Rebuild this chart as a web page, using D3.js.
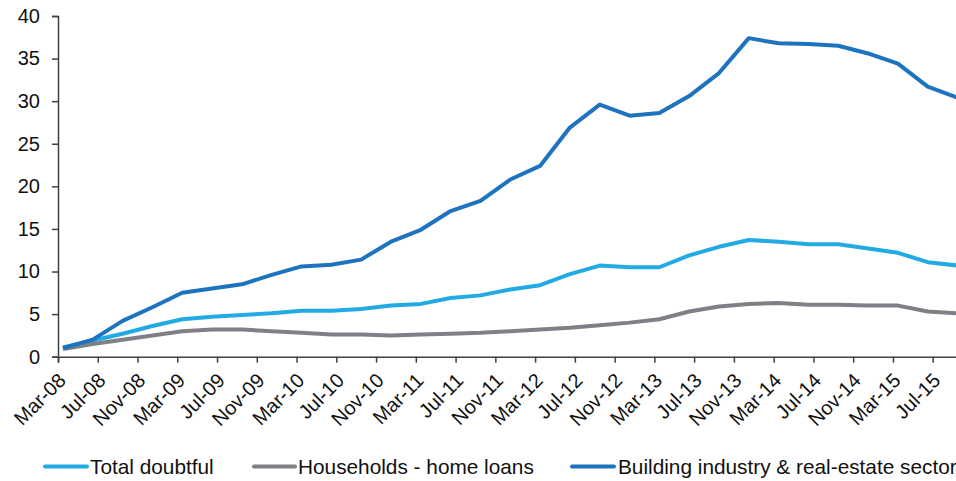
<!DOCTYPE html>
<html>
<head>
<meta charset="utf-8">
<script src="https://cdn.jsdelivr.net/npm/d3@7"></script>
<style>
  html, body { margin: 0; padding: 0; background: #fff; }
  svg { display: block; font-family: Arial, "Liberation Sans", sans-serif; }
</style>
</head>
<body>
<svg id="chart" width="956" height="481"></svg>
<script>
// Quarterly observations, Mar-08 .. Sep-15
const quarters = ["Mar-08","Jun-08","Sep-08","Dec-08","Mar-09","Jun-09","Sep-09","Dec-09",
  "Mar-10","Jun-10","Sep-10","Dec-10","Mar-11","Jun-11","Sep-11","Dec-11",
  "Mar-12","Jun-12","Sep-12","Dec-12","Mar-13","Jun-13","Sep-13","Dec-13",
  "Mar-14","Jun-14","Sep-14","Dec-14","Mar-15","Jun-15","Sep-15"];
const totalDoubtful = [1.1,1.9,2.7,3.6,4.4,4.7,4.9,5.1,5.4,5.4,5.6,6.0,6.2,6.9,7.2,7.9,
  8.4,9.7,10.7,10.5,10.5,11.9,12.9,13.7,13.5,13.2,13.2,12.7,12.2,11.1,10.7];
const householdsHomeLoans = [0.9,1.5,2.0,2.5,3.0,3.2,3.2,3.0,2.8,2.6,2.6,2.5,2.6,2.7,2.8,3.0,
  3.2,3.4,3.7,4.0,4.4,5.3,5.9,6.2,6.3,6.1,6.1,6.0,6.0,5.3,5.1];
const buildingRealEstate = [1.0,2.0,4.2,5.8,7.5,8.0,8.5,9.6,10.6,10.8,11.4,13.5,14.9,17.1,18.3,20.8,
  22.4,26.9,29.6,28.3,28.6,30.6,33.3,37.4,36.8,36.7,36.5,35.6,34.4,31.7,30.4];
const xTickLabels = ["Mar-08","Jul-08","Nov-08","Mar-09","Jul-09","Nov-09","Mar-10","Jul-10",
  "Nov-10","Mar-11","Jul-11","Nov-11","Mar-12","Jul-12","Nov-12","Mar-13","Jul-13","Nov-13",
  "Mar-14","Jul-14","Nov-14","Mar-15","Jul-15"];
const yTicks = [0,5,10,15,20,25,30,35,40];
const seriesNames = ["Total doubtful","Households - home loans","Building industry & real-estate sector"];
const seriesColors = ["#22ABE3","#7F7F86","#1E73BE"];

const series = [totalDoubtful, householdsHomeLoans, buildingRealEstate];

const svg = d3.select("#chart");
const plotLeft = 58, plotTop = 16, plotBottom = 356.7;
const monthsPx = (932.7 - 58) / 88;

// x: month index from Mar-08 (0). Each month occupies a slot; quarterly point in middle of its month slot.
const x = d3.scaleLinear().domain([0, 91]).range([plotLeft, plotLeft + 91 * monthsPx]);
const y = d3.scaleLinear().domain([0, 40]).range([plotBottom, plotTop]);

// Y axis
const yAxis = d3.axisLeft(y).tickValues(yTicks).tickSizeOuter(0).tickSize(6).tickPadding(12);
const gy = svg.append("g").attr("transform", `translate(${plotLeft},0)`).call(yAxis);
gy.select(".domain").attr("stroke", "#404040").attr("stroke-width", 1.5);
gy.selectAll(".tick line").attr("stroke", "#404040").attr("stroke-width", 1.5);
gy.selectAll(".tick text").attr("fill", "#111").style("font-size", "20px")
  .style("font-family", "Arial, 'Liberation Sans', sans-serif");

// X axis
const tickMonths = xTickLabels.map((d, i) => i * 4);
const xAxis = d3.axisBottom(x).tickValues(tickMonths).tickFormat((d, i) => xTickLabels[i])
  .tickSizeOuter(0).tickSize(6);
const gx = svg.append("g").attr("transform", `translate(0,${plotBottom})`).call(xAxis);
gx.select(".domain").attr("stroke", "#404040").attr("stroke-width", 1.5);
gx.selectAll(".tick line").attr("stroke", "#404040").attr("stroke-width", 1.5);
gx.selectAll(".tick text")
  .attr("fill", "#111")
  .style("font-size", "20px")
  .style("font-family", "Arial, 'Liberation Sans', sans-serif")
  .attr("text-anchor", "end")
  .attr("dy", null)
  .attr("y", null)
  .attr("transform", "translate(8.5,25) rotate(-45)");

// Lines
const line = d3.line().x((d, i) => x(i * 3 + 0.5)).y(d => y(d));
series.forEach((s, i) => {
  svg.append("path")
    .datum(s)
    .attr("fill", "none")
    .attr("stroke", seriesColors[i])
    .attr("stroke-width", 4)
    .attr("stroke-linejoin", "round")
    .attr("d", line);
});

// Legend
const legendY = 466.5;
const legendItems = [
  {sx: 45, ex: 87, tx: 90},
  {sx: 254, ex: 295, tx: 298},
  {sx: 572, ex: 614, tx: 618}
];
legendItems.forEach((it, i) => {
  svg.append("line").attr("x1", it.sx).attr("x2", it.ex).attr("y1", legendY).attr("y2", legendY)
    .attr("stroke", seriesColors[i]).attr("stroke-width", 4).attr("stroke-linecap", "round");
  svg.append("text").attr("x", it.tx).attr("y", legendY).attr("dy", "0.35em")
    .attr("fill", "#111").style("font-size", "20.8px").text(seriesNames[i]);
});
</script>
</body>
</html>
